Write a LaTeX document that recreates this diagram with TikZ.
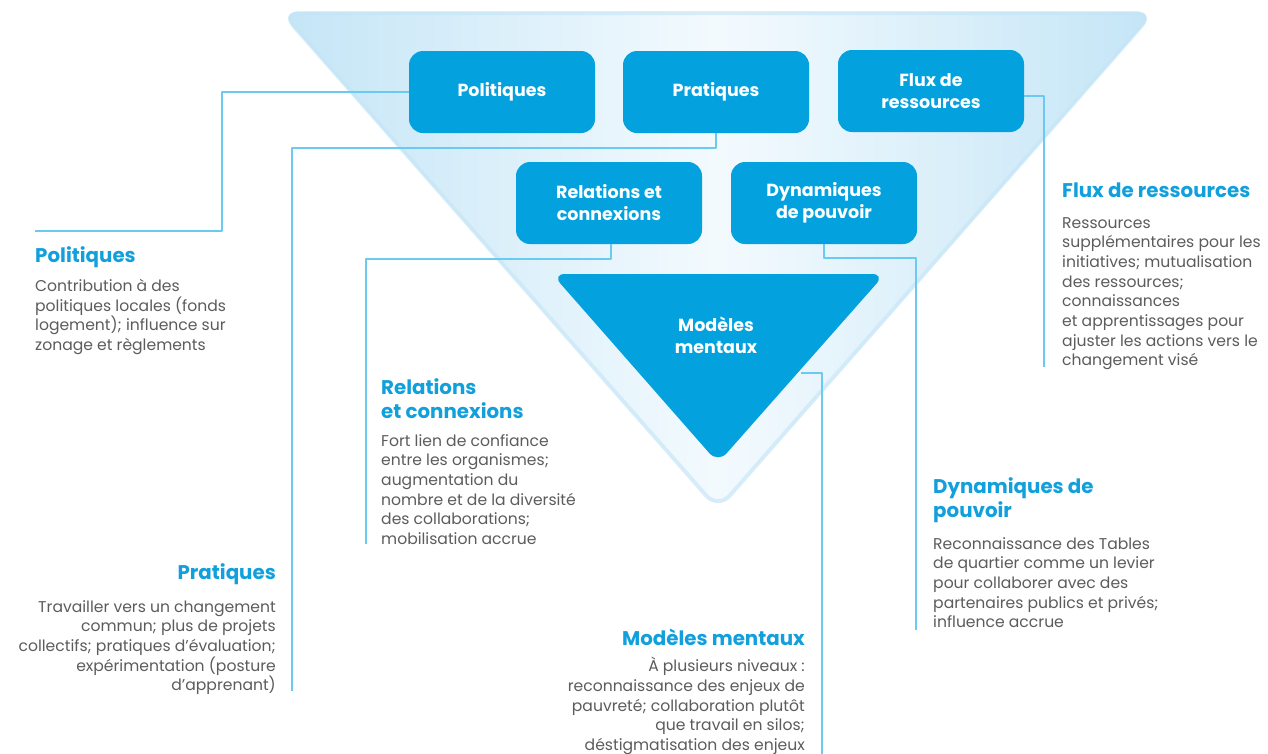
\documentclass[tikz,border=0pt]{standalone}
\usepackage{fontspec}
\setmainfont{Poppins}
\definecolor{leverblue}{HTML}{03A2DF}
\definecolor{linkblue}{HTML}{6ACAF1}
\definecolor{headblue}{HTML}{12A0DC}
\definecolor{bodygray}{HTML}{5C5C5C}
\definecolor{funneledge}{HTML}{C4E5F6}
\definecolor{funnelmid}{HTML}{F3FAFE}
\tikzset{
  lever/.style={fill=leverblue, rounded corners=14pt, minimum width=186pt, minimum height=82pt,
    text=white, font=\fontsize{17.5}{22}\selectfont\bfseries, align=center, inner sep=0pt},
  link/.style={draw=linkblue, line width=1.6pt},
  heading/.style={text=headblue, font=\fontsize{19.8}{24}\selectfont\bfseries, inner sep=0pt},
  body/.style={text=bodygray, font=\fontsize{15.6}{19.7}\selectfont, inner sep=0pt},
}
\begin{document}
\begin{tikzpicture}[>=latex,line join=bevel,x=1pt,y=-1pt]
%%
  \useasboundingbox [fill=white] (0,0) rectangle (1268,753);
  \shade [left color=funneledge, right color=funneledge, middle color=funnelmid, rounded corners=18pt]
    (280,12) -- (1155,12) -- (718,511) -- cycle;
  \draw [funneledge, line width=4pt, rounded corners=18pt, opacity=0.6]
    (282,13) -- (1153,13) -- (718,509) -- cycle;

  \node (node_pol) at (502,92) [lever] {Politiques};
  \node (node_pra) at (716,92) [lever] {Pratiques};
  \node (node_flux) at (931,91) [lever] {Flux de\\ressources};
  \node (node_rel) at (609,203) [lever] {Relations et\\connexions};
  \node (node_dyn) at (824,203) [lever] {Dynamiques\\de pouvoir};

  \fill [leverblue, rounded corners=13pt] (552,274) -- (885,274) -- (718,463) -- cycle;
  \node (node_mod) at (716,335) [lever, fill=none] {Modèles\\mentaux};
  \coordinate (tri_mod) at (801,373);

  \coordinate (end_pol) at (35,231);
  \coordinate (end_pra) at (292,691);
  \coordinate (end_flux) at (1044,367);
  \coordinate (end_rel) at (366,544);
  \coordinate (end_dyn) at (916,630);
  \coordinate (end_mod) at (822,760);

  \draw [link] (node_pol.west) -- ++(-187,0) |- (end_pol);
  \draw [link] (node_pra.south) -- ++(0,15) -| (end_pra);
  \draw [link] ([yshift=-5pt]node_flux.east) -| (end_flux);
  \draw [link] ([xshift=2pt]node_rel.south) -- ++(0,15) -| (end_rel);
  \draw [link] (node_dyn.south) -- ++(0,14) -| (end_dyn);
  \draw [link] (tri_mod) -| (end_mod);

  \node (head_pol) at (35,257) [heading, anchor=west] {Politiques};
  \node (text_pol) at (35,279) [body, anchor=north west, align=left]
    {Contribution à des\\politiques locales (fonds\\logement); influence sur\\zonage et règlements};

  \node (head_pra) at (276,574) [heading, anchor=east] {Pratiques};
  \node (text_pra) at (276,600) [body, anchor=north east, align=right]
    {Travailler vers un changement\\commun; plus de projets\\collectifs; pratiques d’évaluation;\\expérimentation (posture\\d’apprenant)};

  \node (head_rel) at (381,378) [heading, anchor=north west, align=left] {Relations\\et connexions};
  \node (text_rel) at (381,434) [body, anchor=north west, align=left]
    {Fort lien de confiance\\entre les organismes;\\augmentation du\\nombre et de la diversité\\des collaborations;\\mobilisation accrue};

  \node (head_flux) at (1062,190) [heading, anchor=west] {Flux de ressources};
  \node (text_flux) at (1062,217) [body, anchor=north west, align=left]
    {Ressources\\supplémentaires pour les\\initiatives; mutualisation\\des ressources;\\connaissances\\et apprentissages pour\\ajuster les actions vers le\\changement visé};

  \node (head_dyn) at (933,477) [heading, anchor=north west, align=left] {Dynamiques de\\pouvoir};
  \node (text_dyn) at (933,537) [body, anchor=north west, align=left]
    {Reconnaissance des Tables\\de quartier comme un levier\\pour collaborer avec des\\partenaires publics et privés;\\influence accrue};

  \node (head_mod) at (805,637) [heading, anchor=east] {Modèles mentaux};
  \node (text_mod) at (805,657) [body, anchor=north east, align=right]
    {À plusieurs niveaux :\\reconnaissance des enjeux de\\pauvreté; collaboration plutôt\\que travail en silos;\\déstigmatisation des enjeux};

\end{tikzpicture}
\end{document}
